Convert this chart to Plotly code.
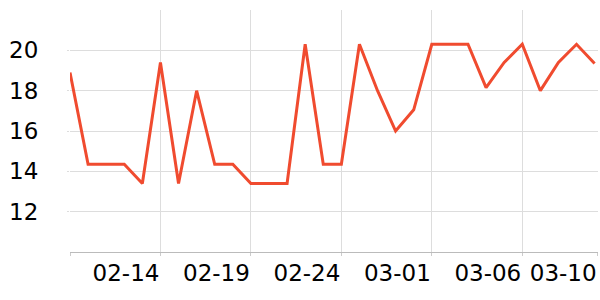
import plotly.graph_objects as go
import pandas as pd

dates = pd.date_range("2023-02-09", "2023-03-10", freq="D").strftime("%Y-%m-%d").tolist()
values = [18.9, 14.35, 14.35, 14.35, 13.4, 19.4, 13.4, 18.0, 14.35, 14.35,
          13.4, 13.4, 13.4, 20.3, 14.35, 14.35, 20.3, 18.0, 16.0, 17.05,
          20.3, 20.3, 20.3, 18.15, 19.4, 20.3, 18.0, 19.4, 20.3, 19.35]
x_tickvals = ["2023-02-09", "2023-02-14", "2023-02-19", "2023-02-24",
              "2023-03-01", "2023-03-06", "2023-03-10 04:00"]
x_ticktext = ["", "02-14", "02-19", "02-24", "03-01", "03-06", "03-10"]
y_tickvals = [12, 14, 16, 18, 20]

fig = go.Figure()
fig.add_trace(go.Scatter(x=dates, y=values, mode="lines",
                         line=dict(color="#f04b2f", width=3)))

fig.update_layout(
    width=600, height=300,
    margin=dict(l=70, r=2, t=10, b=48),
    paper_bgcolor="white", plot_bgcolor="white",
    showlegend=False,
    font=dict(family="DejaVu Sans", size=23, color="#000"),
)
fig.update_xaxes(
    type="date", range=["2023-02-09", "2023-03-10 04:30"],
    tickvals=x_tickvals, ticktext=x_ticktext,
    ticklabelposition="outside left", tickangle=0,
    showgrid=True, gridcolor="#dddddd", gridwidth=1,
    showline=True, linecolor="#bbbbbb", linewidth=1,
    ticks="outside", ticklen=3, tickcolor="#cccccc",
    zeroline=False,
)
fig.update_yaxes(
    range=[10, 22], tickvals=y_tickvals,
    showgrid=True, gridcolor="#dddddd", gridwidth=1,
    showline=False, zeroline=False,
    ticks="outside", ticklen=2, tickcolor="#dddddd",
    ticklabelstandoff=24,
)
fig.write_html("out.html")
